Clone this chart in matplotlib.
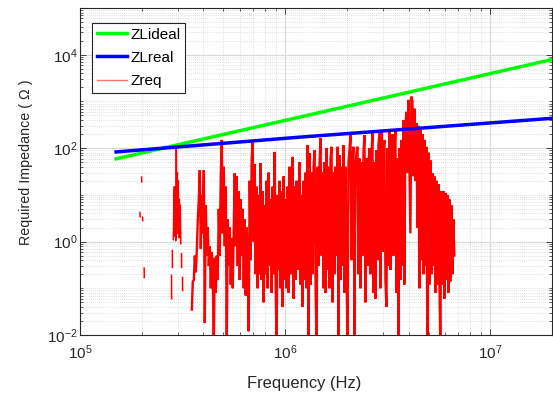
import numpy as np
import matplotlib
matplotlib.use("Agg")
import matplotlib.pyplot as plt
from matplotlib.lines import Line2D
from matplotlib.ticker import LogLocator, FixedLocator, NullFormatter, LogFormatterSciNotation

plt.rcParams['font.family'] = ['Liberation Sans', 'DejaVu Sans']
plt.rcParams['mathtext.fontset'] = 'custom'
plt.rcParams['mathtext.rm'] = 'Liberation Sans'
plt.rcParams['mathtext.it'] = 'Liberation Sans:italic'
plt.rcParams['mathtext.bf'] = 'Liberation Sans:bold'

# ---------------- data ----------------
zl_freq = [1.5e5, 1.18e6, 2.0e7]
zl_ideal = [59, 463, 7900]
zl_real = [83, 172, 435]

nan = float('nan')
# sparse fragments at low frequency (Hz, Ohm)
zreq_sparse_f = [1.996e5, 2.000e5, nan,
                 1.959e5, 1.965e5, nan,
                 2.019e5, 2.022e5, nan,
                 2.055e5, 2.057e5, nan,
                 2.794e5, 2.796e5, nan,
                 2.819e5, 2.822e5, nan,
                 2.851e5, 2.867e5, 2.883e5, 2.899e5, 2.915e5, 2.931e5, 2.948e5, 2.964e5,
                 2.981e5, 2.998e5, 3.015e5, 3.032e5, 3.049e5, 3.066e5, 3.083e5, 3.100e5, nan,
                 3.125e5, 3.128e5, nan,
                 3.161e5, 3.164e5]
zreq_sparse = [24, 19, nan,
               4.2, 3.4, nan,
               3.3, 2.8, nan,
               0.27, 0.17, nan,
               0.19, 0.06, nan,
               0.64, 0.28, nan,
               1.1, 6, 15, 1.3, 3, 1.05, 105, 2,
               30, 1.5, 20, 1.2, 8, 1.8, 6, 0.9, nan,
               0.55, 0.28, nan,
               0.17, 0.09]

# dense part, sampled on a log frequency grid (Hz, Ohm)
zreq_dense_fstart = 3.508e5
zreq_dense_fstop = 6.68e6
zreq_dense = [
    # 3.5e5 .. 4.1e5
    0.035, 0.14, 0.15, 0.5, 0.22, 0.6, 3,
    8, 34, 0.7, 10, 1.5, 34, 0.018, 6, 0.5,
    # trough
    2, 0.3, 0.8, 0.1, 0.6, 0.2, 0.005, 0.45, 0.08, 0.5, 0.15,
    # group near 4.9e5
    5, 0.5, 25, 150, 1.5, 40, 0.8, 15, 0.005,
    3, 0.3, 2, 0.12, 1.2, 0.1, 1.5,
    # group near 5.7e5
    29, 0.8, 25, 0.3, 12, 0.15, 8, 0.5, 5, 0.1, 3, 0.07, 2,
    # near 7e5
    0.3, 0.012, 20, 0.4, 60, 140, 1, 45, 0.2,
    # 7.2e5 .. 1.3e6
    15, 0.1, 10, 0.2, 48, 0.15, 12, 0.05, 6, 0.2,
    20, 0.1, 30, 0.3, 8, 0.08, 15, 0.2, 83, 0.12,
    0.005, 10, 0.25, 20, 0.1, 12, 0.04, 25, 0.15, 8,
    0.1, 15, 0.08, 40, 0.2, 10, 65, 0.06, 15, 0.15,
    20, 0.25, 8, 50, 0.12, 10, 0.04, 20, 0.15, 30,
    0.1, 116, 0.005, 78,
    # 1.3e6 .. 2.1e6
    0.12, 30, 0.2, 40, 90, 0.1, 0.005, 40, 0.3, 50,
    164, 0.5, 30, 0.1, 50, 0.08, 100, 0.25, 40, 0.1,
    60, 107, 0.05, 30, 0.2, 40, 0.5, 107, 0.005, 70,
    0.15, 40, 0.3, 116, 0.08, 40, 0.2, 0.01, 50, 90,
    # 2.1e6 .. 3.6e6
    210, 0.4, 60, 107, 0.01, 40, 80, 107, 0.2, 60,
    0.1, 50, 0.5, 80, 190, 0.05, 60, 0.3, 50, 100,
    0.2, 70, 210, 0.08, 50, 0.06, 90, 0.4, 120, 210,
    0.1, 244, 0.6, 90, 150, 0.15, 0.04, 100, 0.3, 244,
    0.25, 120, 200, 0.5, 90, 250, 0.08, 60, 0.005, 100,
    # resonance peak near 4.2e6
    0.15, 150, 0.3, 400, 0.12, 300, 600, 30, 1080, 40,
    1.5, 1270, 1000, 25, 700, 20, 345, 2, 300, 0.1,
    # falling tail
    244, 0.4, 200, 0.2, 150, 0.3, 107, 0.005, 80, 0.12,
    55, 0.2, 29, 0.3, 25, 0.08, 20, 0.12, 17, 0.2,
    0.005, 12, 0.12, 12, 0.06, 11, 0.15, 10, 0.08, 8,
    0.14, 6, 0.2, 3, 0.5]

x_limits = [1e5, 2e7]
y_limits = [1e-2, 1e5]
y_major = [1e-2, 1e0, 1e2, 1e4]

# ---------------- plot ----------------
W, H = 553, 399
fig = plt.figure(figsize=(W / 100, H / 100), dpi=100)
ax = fig.add_axes([80 / W, (H - 335) / H, 472 / W, 327 / H])

dense_f = np.geomspace(zreq_dense_fstart, zreq_dense_fstop, len(zreq_dense))

red = (1, 0, 0)
ax.plot(zl_freq, zl_ideal, color=(0, 1, 0), lw=2.5, zorder=3)
ax.plot(zl_freq, zl_real, color=(0, 0, 1), lw=2.5, zorder=3)
ax.plot(dense_f, zreq_dense, color=red, lw=1.7, zorder=2, solid_joinstyle='miter')
ax.plot(zreq_sparse_f, zreq_sparse, color=red, lw=1.1, zorder=2)

ax.set_xscale('log')
ax.set_yscale('log')
ax.set_xlim(x_limits)
ax.set_ylim(y_limits)

ax.yaxis.set_major_locator(FixedLocator(y_major))
ax.yaxis.set_major_formatter(LogFormatterSciNotation())
ax.yaxis.set_minor_locator(LogLocator(base=10, subs=np.arange(1, 10), numticks=100))
ax.yaxis.set_minor_formatter(NullFormatter())
ax.xaxis.set_major_locator(LogLocator(base=10, numticks=100))
ax.xaxis.set_minor_locator(LogLocator(base=10, subs=np.arange(2, 10), numticks=100))
ax.xaxis.set_minor_formatter(NullFormatter())

dark = (0.15, 0.15, 0.15)
ax.grid(True, which='major', color=(0.85, 0.85, 0.85), lw=0.8, ls='-')
ax.grid(True, which='minor', color=(0.78, 0.78, 0.78), lw=0.5, ls=(0, (1, 2)))
ax.set_axisbelow(True)

for s in ax.spines.values():
    s.set_color(dark)
    s.set_linewidth(0.8)
ax.tick_params(which='both', direction='in', top=True, right=True, color=dark,
               labelcolor=dark, labelsize=11)
ax.tick_params(which='major', length=4, width=0.6)
ax.tick_params(which='minor', length=2.2, width=0.5)
ax.tick_params(axis='x', pad=6)
ax.tick_params(axis='y', pad=2)

ax.set_xlabel('Frequency (Hz)', fontsize=11.9, color=dark)
ax.xaxis.set_label_coords((304 - 80) / 472, -(376 - 335) / 327)
ax.set_ylabel('Required Impedance ( \u03a9 )', fontsize=10.3, color=dark)
ax.yaxis.set_label_coords((33 - 80) / 472, (335 - 162.5) / 327)

handles = [Line2D([], [], color=(0, 1, 0), lw=2.5),
           Line2D([], [], color=(0, 0, 1), lw=2.5),
           Line2D([], [], color=(1, 0.45, 0.45), lw=1.0)]
leg = ax.legend(handles, ['ZLideal', 'ZLreal', 'Zreq'],
                loc='upper left', bbox_to_anchor=(12 / 472, 1 - 15 / 327), borderaxespad=0,
                fancybox=False, framealpha=1, edgecolor=dark, fontsize=11,
                handlelength=2.0, handletextpad=0.2, labelspacing=0.6, borderpad=0.3)
leg.get_frame().set_linewidth(0.8)

fig.savefig('out.png', dpi=100)
